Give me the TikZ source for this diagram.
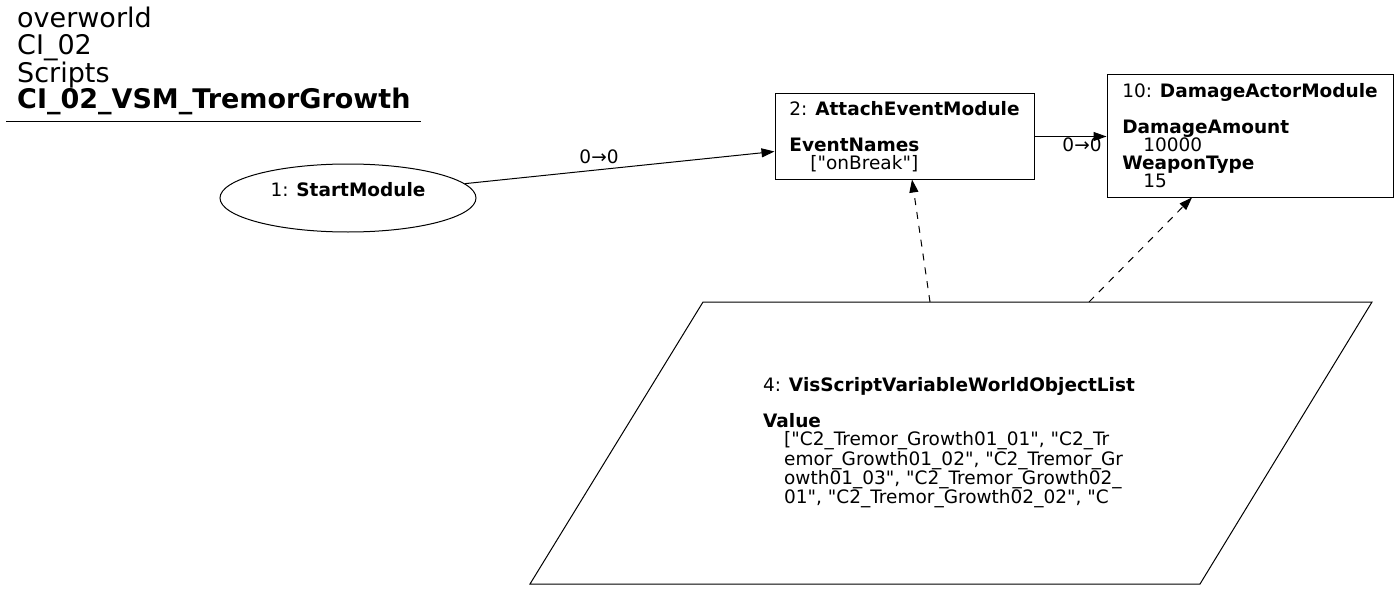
\documentclass[tikz,border=0pt]{standalone}
\usepackage{fontspec}
\setmainfont{DejaVu Sans}[Ligatures=TeXOff]
\usetikzlibrary{arrows.meta,shapes.geometric,calc}
\newcommand{\dq}{\symbol{34}}
\tikzset{
  mod/.style={draw, line width=1pt, inner sep=0pt, align=left, font=\fontsize{18.5}{18}\selectfont},
  lbl/.style={font=\fontsize{18.5}{18}\selectfont, inner sep=0pt},
  edge/.style={line width=1pt, -{Triangle[length=13pt,width=9pt]}},
  dedge/.style={edge, dash pattern=on 7pt off 7pt},
}
\begin{document}
\begin{tikzpicture}[x=1pt,y=-1pt]
\useasboundingbox (0,0) rectangle (1397,591);
% title
\node[anchor=base west, align=left, inner sep=0pt, font=\fontsize{27}{26.7}\selectfont] (title) at (17,109)
  {overworld\\CI\_02\\Scripts\\\textbf{CI\_02\_VSM\_TremorGrowth}};
\draw[line width=1pt] (6,122) coordinate (ul1) -- (421,122) coordinate (ul2);
% nodes
\node[mod, ellipse, minimum width=256pt, minimum height=68pt, align=center] (s1) at (348,198)
  {1: \textbf{StartModule}\\ \mbox{}};
\node[mod, minimum width=259pt, minimum height=85pt] (b2) at (904.5,136.5)
  {2: \textbf{AttachEventModule}\\ \mbox{}\\ \textbf{EventNames}\\ \hspace*{21pt}[\dq onBreak\dq]};
\node[mod, minimum width=286pt, minimum height=122pt] (b10) at (1250,136)
  {10: \textbf{DamageActorModule}\\ \mbox{}\\ \textbf{DamageAmount}\\ \hspace*{21pt}10000\\ \textbf{WeaponType}\\ \hspace*{21pt}15};
% parallelogram
\coordinate (p1) at (703,302);
\coordinate (p2) at (1372,302);
\coordinate (p3) at (1200,584);
\coordinate (p4) at (530,584);
\draw[line width=1pt] (p1) -- (p2) -- (p3) -- (p4) -- cycle;
\node[lbl, align=left] (v4) at (949,443)
  {4: \textbf{VisScriptVariableWorldObjectList}\\ \mbox{}\\ \textbf{Value}\\
   \hspace*{21pt}[\dq C2\_Tremor\_Growth01\_01\dq, \dq C2\_Tr\\
   \hspace*{21pt}emor\_Growth01\_02\dq, \dq C2\_Tremor\_Gr\\
   \hspace*{21pt}owth01\_03\dq, \dq C2\_Tremor\_Growth02\_\\
   \hspace*{21pt}01\dq, \dq C2\_Tremor\_Growth02\_02\dq, \dq C};
% edges
\draw[edge] (s1.7) -- ($(b2.west)+(0,15)$);
\node[lbl] (e1) at (599,157) {0→0};
\draw[edge] (b2.east) -- (b2.east -| b10.west);
\node[lbl] (e2) at (1082,145) {0→0};
\coordinate (d1) at (930,302);
\coordinate (d2) at (1089,302);
\draw[dedge] (d1) -- ($(b2.south)+(7.5,0)$);
\draw[dedge] (d2) -- ($(b10.south)+(-58,0)$);
\end{tikzpicture}
\end{document}
